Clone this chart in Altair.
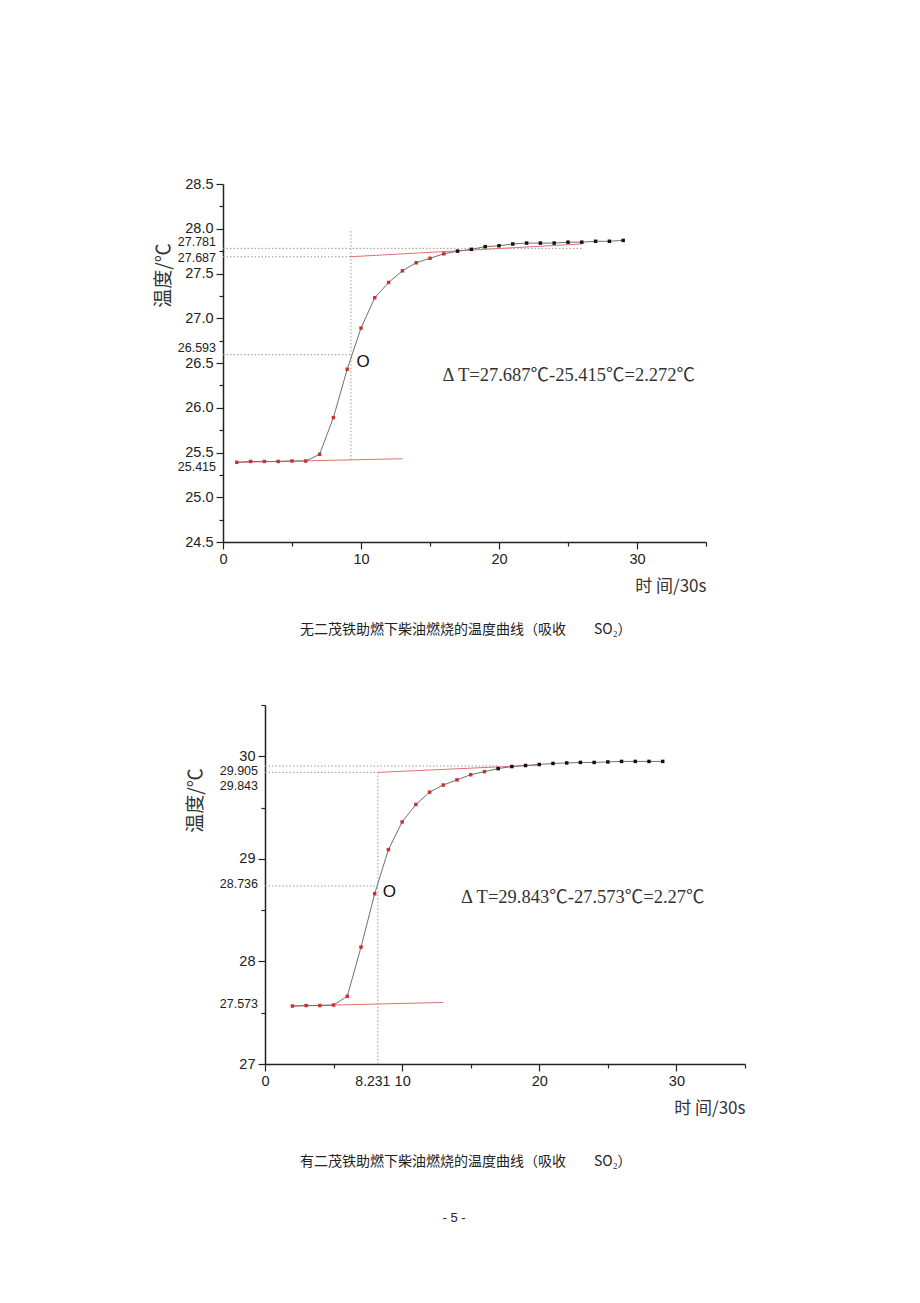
import altair as alt
import pandas as pd

# ---------------- data ----------------
top_t = list(range(1, 30))
top_temp = [25.39, 25.40, 25.40, 25.40, 25.405, 25.405, 25.48, 25.89, 26.43, 26.89,
            27.23, 27.40, 27.53, 27.62, 27.67, 27.72, 27.75, 27.77, 27.80, 27.81,
            27.83, 27.84, 27.84, 27.84, 27.85, 27.85, 27.86, 27.86, 27.87]

bot_t = list(range(2, 30))
bot_temp = [27.565, 27.57, 27.57, 27.575, 27.66, 28.14, 28.66, 29.09, 29.36, 29.53,
            29.65, 29.72, 29.77, 29.82, 29.85, 29.88, 29.90, 29.91, 29.92, 29.93,
            29.935, 29.94, 29.94, 29.945, 29.95, 29.95, 29.95, 29.95]

x_ticks = [0, 5, 10, 15, 20, 25, 30, 35]
top_y_ticks = [24.5, 24.75, 25.0, 25.25, 25.5, 25.75, 26.0, 26.25, 26.5, 26.75,
               27.0, 27.25, 27.5, 27.75, 28.0, 28.25, 28.5]
bot_y_ticks = [27.0, 27.5, 28.0, 28.5, 29.0, 29.5, 30.0, 30.5]

top_ref_labels = [27.781, 27.687, 26.593, 25.415]
bot_ref_labels = [29.905, 29.843, 28.736, 27.573]
bot_x_ref_label = [8.231]

# tangent lines (red)
top_tan_hi_x = [9.2, 26.0]
top_tan_hi_y = [27.687, 27.83]
top_tan_lo_x = [1.0, 13.0]
top_tan_lo_y = [25.39, 25.43]
bot_tan_hi_x = [8.231, 20.0]
bot_tan_hi_y = [29.843, 29.915]
bot_tan_lo_x = [2.0, 13.0]
bot_tan_lo_y = [27.565, 27.60]

# dotted guides
top_hg_y = [27.781, 27.687, 26.593]
top_hg_xend = [26.0, 9.2, 9.27]
top_vg_x = [9.27]
top_vg_y1 = [25.415]
top_vg_y2 = [28.0]
bot_hg_y = [29.905, 29.843, 28.736]
bot_hg_xend = [17.0, 8.231, 8.231]
bot_vg_x = [8.231]
bot_vg_y1 = [27.0]
bot_vg_y2 = [29.843]

top_formula = ["Δ  T=27.687℃-25.415℃=2.272℃"]
top_formula_t = [15.9]
top_formula_T = [26.37]
top_mark_t = [10.15]
top_mark_T = [26.51]
bot_formula = ["Δ  T=29.843℃-27.573℃=2.27℃"]
bot_formula_t = [14.3]
bot_formula_T = [28.63]
bot_mark_t = [9.06]
bot_mark_T = [28.68]

black_from = 17

cap_top = "无二茂铁助燃下柴油燃烧的温度曲线（吸收　　SO₂）"
cap_bot = "有二茂铁助燃下柴油燃烧的温度曲线（吸收　　SO₂）"
page_no = "- 5 -"

# ---------------- layout / style ----------------
W, H = 920, 1303
TOP_L, TOP_R, TOP_T, TOP_B = 223, 706, 184, 542
BOT_L, BOT_R, BOT_T, BOT_B = 265, 745, 705, 1064

LBL_FONT = "Liberation Sans"
CJK_FONT = "Noto Sans CJK SC"
SERIF = "Liberation Serif, Noto Sans CJK SC"
AX_COLOR = "#222222"
RED_PT = "#c83232"
RED_LN = "#e07070"
CURVE = "#707070"
GUIDE = "#9a9a9a"


def make_axes(x_l, x_r, y_t, y_b, y_ticks, y_fmt, y_title_pos, x_title_pos):
    major_y = "(datum.value*2) % 1 == 0" if y_fmt == ".1f" else "datum.value % 1 == 0"
    ax_x = alt.Axis(
        orient="bottom", offset=-(H - y_b), values=x_ticks, grid=False,
        labelExpr="datum.value % 10 == 0 ? datum.label : ''",
        tickSize={"condition": {"test": "datum.value % 10 == 0", "value": 7}, "value": 4},
        tickColor=AX_COLOR, domainColor=AX_COLOR, domainWidth=1.5, tickWidth=1.2,
        labelFont=LBL_FONT, labelFontSize=14.5, labelColor=AX_COLOR, labelPadding=3,
        labelOverlap=False, labelFlush=False,
        title="时  间/30s", titleFont=CJK_FONT, titleFontSize=17, titleFontWeight="normal",
        titleColor="#333333", titleX=x_title_pos[0], titleY=x_title_pos[1],
        titleAlign="right", titleBaseline="middle", titleAngle=0,
    )
    ax_y = alt.Axis(
        orient="left", offset=-x_l, values=y_ticks, grid=False,
        labelExpr=f"{major_y} ? format(datum.value, '{y_fmt}') : ''",
        tickSize={"condition": {"test": major_y, "value": 7}, "value": 4},
        tickColor=AX_COLOR, domainColor=AX_COLOR, domainWidth=1.5, tickWidth=1.2,
        labelFont=LBL_FONT, labelFontSize=14.5, labelColor=AX_COLOR, labelPadding=3,
        labelOverlap=False, labelFlush=False,
        title="温度/℃", titleFont=CJK_FONT, titleFontSize=19, titleFontWeight="normal",
        titleColor="#333333", titleX=y_title_pos[0], titleY=y_title_pos[1],
        titleAngle=270, titleAlign="center", titleBaseline="middle",
    )
    return ax_x, ax_y


def panel(t, temp, xs, ys, ax_x, ax_y, tan_hi, tan_lo, hg, vg, ref_labels,
          ref_dy, x_left, formula, mark):
    X = lambda: alt.X("t:Q", scale=xs, axis=ax_x)
    Y = lambda: alt.Y("T:Q", scale=ys, axis=ax_y)
    df = pd.DataFrame({"t": t, "T": temp})
    df["grp"] = ["late" if v >= black_from else "early" for v in t]

    layers = []
    # dotted guides
    hdf = pd.DataFrame({"t": [0.0] * len(hg[0]), "t2": hg[1], "T": hg[0]})
    layers.append(alt.Chart(hdf).mark_rule(color=GUIDE, strokeDash=[1.5, 2], strokeWidth=1)
                  .encode(x=X(), x2="t2:Q", y=Y()))
    vdf = pd.DataFrame({"t": vg[0], "T": vg[1], "T2": vg[2]})
    layers.append(alt.Chart(vdf).mark_rule(color=GUIDE, strokeDash=[1.5, 2], strokeWidth=1)
                  .encode(x=X(), y=Y(), y2="T2:Q"))
    # tangents
    for tx, ty in (tan_hi, tan_lo):
        tdf = pd.DataFrame({"t": tx, "T": ty})
        layers.append(alt.Chart(tdf).mark_line(color=RED_LN, strokeWidth=1)
                      .encode(x=X(), y=Y()))
    # curve
    layers.append(alt.Chart(df).mark_line(color=CURVE, strokeWidth=1).encode(x=X(), y=Y()))
    layers.append(alt.Chart(df).mark_square(size=12, opacity=1).encode(
        x=X(), y=Y(),
        color=alt.Color("grp:N", scale=alt.Scale(domain=["early", "late"],
                                                 range=[RED_PT, "#111111"]), legend=None)))
    # reference value labels beside y axis
    for v, dy in zip(ref_labels, ref_dy):
        ldf = pd.DataFrame({"T": [v], "lab": [f"{v:.3f}"]})
        layers.append(alt.Chart(ldf).mark_text(
            align="right", baseline="middle", dy=dy, font=LBL_FONT, fontSize=12.5,
            color=AX_COLOR).encode(x=alt.value(x_left - 7), y=Y(), text="lab:N"))
    # formula
    fdf = pd.DataFrame({"t": formula[1], "T": formula[2], "txt": formula[0]})
    layers.append(alt.Chart(fdf).mark_text(
        align="left", baseline="middle", font=SERIF, fontSize=18.5, color="#333333")
        .encode(x=X(), y=Y(), text="txt:N"))
    mdf = pd.DataFrame({"t": mark[0], "T": mark[1], "txt": ["O"]})
    layers.append(alt.Chart(mdf).mark_text(
        align="center", baseline="middle", font=LBL_FONT, fontSize=17, color="#111111")
        .encode(x=X(), y=Y(), text="txt:N"))
    return layers


xs_top = alt.Scale(domain=[0, 35], range=[TOP_L, TOP_R], nice=False, zero=False)
ys_top = alt.Scale(domain=[24.5, 28.5], range=[TOP_B, TOP_T], nice=False, zero=False)
xs_bot = alt.Scale(domain=[0, 35], range=[BOT_L, BOT_R], nice=False, zero=False)
ys_bot = alt.Scale(domain=[27, 30.5], range=[BOT_B, BOT_T], nice=False, zero=False)

axx_top, axy_top = make_axes(TOP_L, TOP_R, TOP_T, TOP_B, top_y_ticks, ".1f",
                             (163 - TOP_L, 275), (TOP_R, 44))
axx_bot, axy_bot = make_axes(BOT_L, BOT_R, BOT_T, BOT_B, bot_y_ticks, "d",
                             (195 - BOT_L, 800), (BOT_R, 44))

top_layers = panel(top_t, top_temp, xs_top, ys_top, axx_top, axy_top,
                   (top_tan_hi_x, top_tan_hi_y), (top_tan_lo_x, top_tan_lo_y),
                   (top_hg_y, top_hg_xend), (top_vg_x, top_vg_y1, top_vg_y2),
                   top_ref_labels, [-6, 1, -7, 7], TOP_L,
                   (top_formula, top_formula_t, top_formula_T), (top_mark_t, top_mark_T))

bot_layers = panel(bot_t, bot_temp, xs_bot, ys_bot, axx_bot, axy_bot,
                   (bot_tan_hi_x, bot_tan_hi_y), (bot_tan_lo_x, bot_tan_lo_y),
                   (bot_hg_y, bot_hg_xend), (bot_vg_x, bot_vg_y1, bot_vg_y2),
                   bot_ref_labels, [5, 14, -2, -1], BOT_L,
                   (bot_formula, bot_formula_t, bot_formula_T), (bot_mark_t, bot_mark_T))

# 8.231 label under bottom x axis
xl_df = pd.DataFrame({"t": bot_x_ref_label, "lab": [f"{v:.3f}" for v in bot_x_ref_label]})
bot_layers.append(alt.Chart(xl_df).mark_text(
    align="center", baseline="middle", font=LBL_FONT, fontSize=14, color=AX_COLOR, dx=-5)
    .encode(x=alt.X("t:Q", scale=xs_bot, axis=axx_bot), y=alt.value(BOT_B + 18), text="lab:N"))

top_panel = alt.layer(*top_layers)
bot_panel = alt.layer(*bot_layers)

caps = []
for txt, yy in ((cap_top, 630), (cap_bot, 1162)):
    caps.append(alt.Chart(pd.DataFrame({"txt": [txt]})).mark_text(
        align="left", baseline="middle", font=CJK_FONT, fontSize=14, color="#222222")
        .encode(x=alt.value(300), y=alt.value(yy), text="txt:N"))
caps.append(alt.Chart(pd.DataFrame({"txt": [page_no]})).mark_text(
    align="center", baseline="middle", font=LBL_FONT, fontSize=13, color="#222222")
    .encode(x=alt.value(454), y=alt.value(1218), text="txt:N"))

chart = (
    alt.layer(top_panel, bot_panel, *caps)
    .resolve_scale(x="independent", y="independent", color="independent")
    .properties(width=W, height=H, autosize=alt.AutoSizeParams(type="none"), padding=0,
                background="white")
    .configure_view(stroke=None)
)

chart.save("out.html", embed_options={"renderer": "svg", "actions": False})
